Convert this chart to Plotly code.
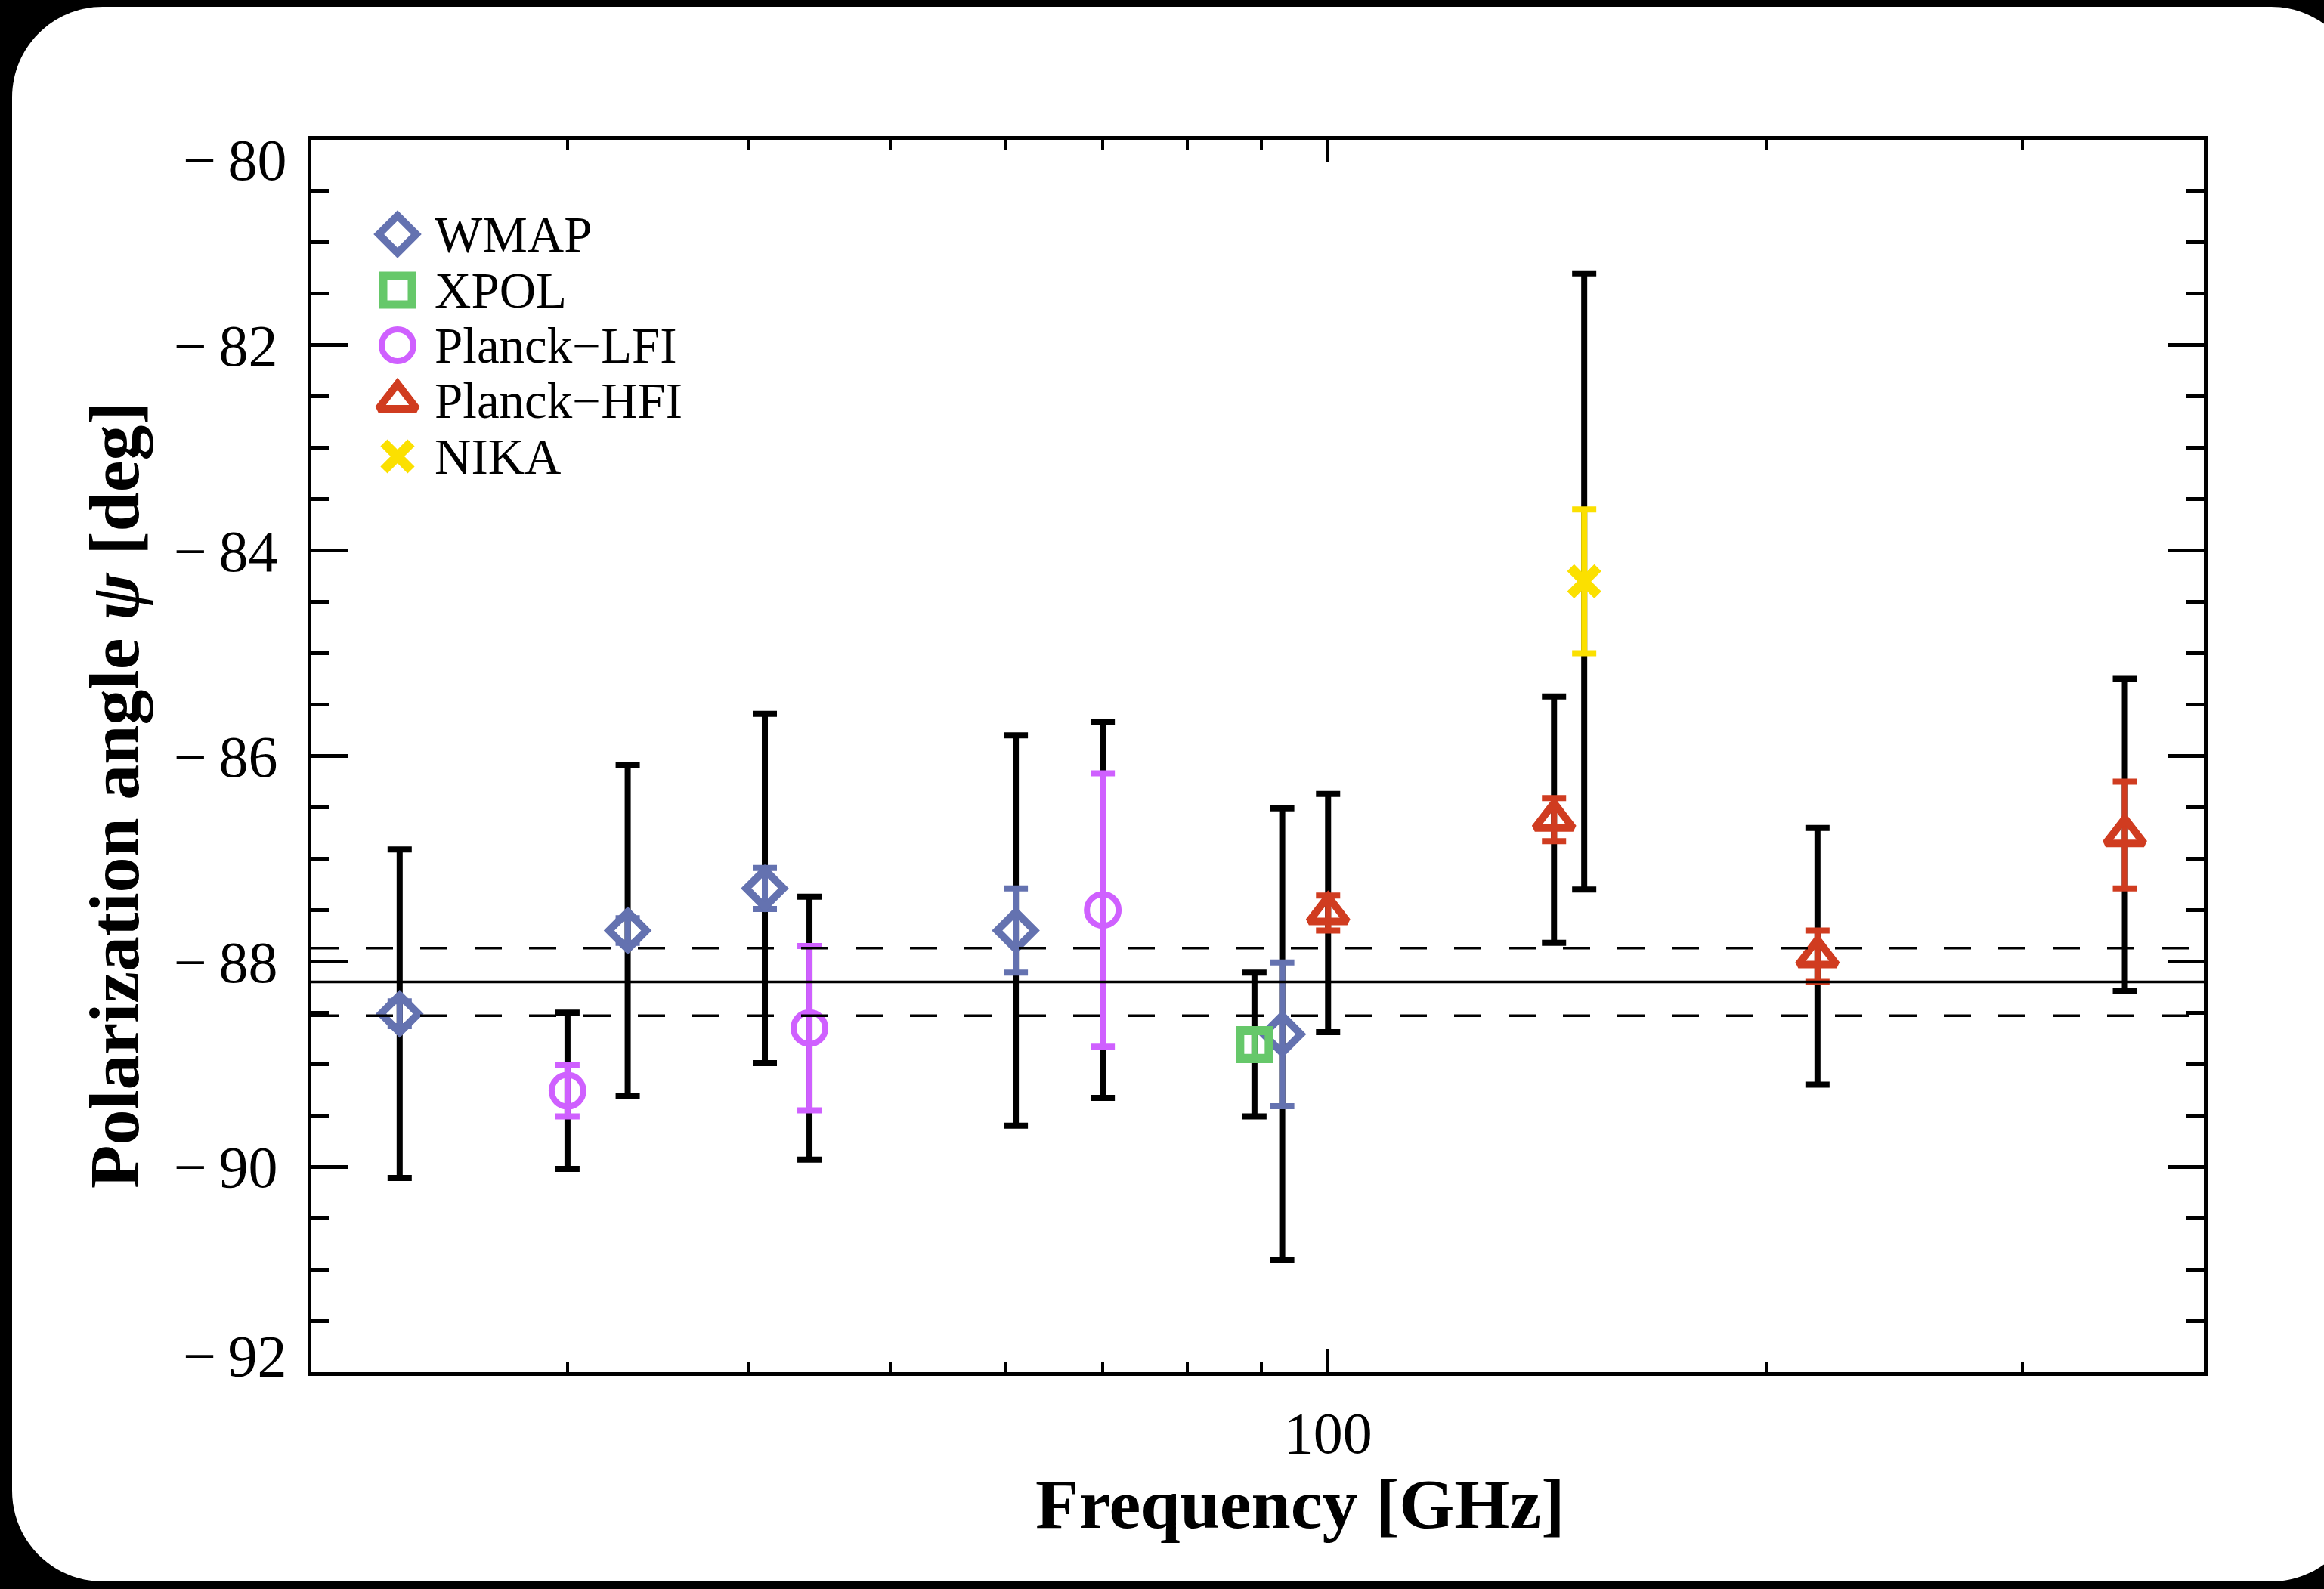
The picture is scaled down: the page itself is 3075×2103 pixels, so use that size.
import plotly.graph_objects as go

# ---------------- data: polarization angle vs frequency ----------------
# WMAP
wmap_freq = [23, 33, 41, 61, 93]
wmap_psi = [-88.51, -87.70, -87.29, -87.70, -88.71]
wmap_stat = [0.12, 0.12, 0.20, 0.41, 0.70]
wmap_tot = [1.60, 1.61, 1.70, 1.90, 2.20]

# XPOL (IRAM 30m)
xpol_freq = [89]
xpol_psi = [-88.81]
xpol_stat = [0.12]
xpol_tot = [0.70]

# Planck-LFI
lfi_freq = [30, 44, 70]
lfi_psi = [-89.26, -88.65, -87.50]
lfi_stat = [0.25, 0.80, 1.33]
lfi_tot = [0.76, 1.28, 1.83]

# Planck-HFI
hfi_freq = [100, 143, 217, 353]
hfi_psi = [-87.53, -86.62, -87.95, -86.77]
hfi_stat = [0.17, 0.21, 0.25, 0.52]
hfi_tot = [1.16, 1.20, 1.25, 1.52]

# NIKA
nika_freq = [150]
nika_psi = [-84.30]
nika_stat = [0.70]
nika_tot = [3.00]

# weighted mean and its uncertainty
psi_mean = -88.20
psi_mean_err = 0.33

# axis ticks
x_major = [100]
x_major_text = ["100"]
x_minor = [30, 40, 50, 60, 70, 80, 90, 200, 300]
y_major = [-92, -90, -88, -86, -84, -82, -80]

series = [
    dict(name="WMAP", f=wmap_freq, p=wmap_psi, s=wmap_stat, t=wmap_tot,
         color="#6472B0", symbol="diamond-open", size=38, lw=10),
    dict(name="XPOL", f=xpol_freq, p=xpol_psi, s=xpol_stat, t=xpol_tot,
         color="#66C86A", symbol="square-open", size=38, lw=11),
    dict(name="Planck\u2212LFI", f=lfi_freq, p=lfi_psi, s=lfi_stat, t=lfi_tot,
         color="#CF60FF", symbol="circle-open", size=42, lw=8),
    dict(name="Planck\u2212HFI", f=hfi_freq, p=hfi_psi, s=hfi_stat, t=hfi_tot,
         color="#D03C20", symbol="triangle-up-open", size=44, lw=10),
    dict(name="NIKA", f=nika_freq, p=nika_psi, s=nika_stat, t=nika_tot,
         color="#FBE000", symbol="x-thin-open", size=36, lw=13),
]

# ---------------- page geometry (pixels) ----------------
W, H = 3075, 2103
L, R, T, B = 412, 2916, 185, 1816


def fx(px):
    return (px - L) / (R - L)


def fy(py):
    return (B - py) / (B - T)


FONT = "Liberation Serif"
BAR_W = 8
CAP = 16

fig = go.Figure()

# total (stat + syst) uncertainties in black, underneath
for s in series:
    fig.add_trace(go.Scatter(
        x=s["f"], y=s["p"], mode="markers",
        marker=dict(size=1, color="rgba(0,0,0,0)"),
        error_y=dict(type="data", array=s["t"], visible=True, color="black",
                     thickness=BAR_W, width=CAP),
        showlegend=False, hoverinfo="skip"))

# statistical uncertainties and points in colour
for s in series:
    fig.add_trace(go.Scatter(
        x=s["f"], y=s["p"], mode="markers", name=s["name"],
        marker=dict(symbol=s["symbol"], size=s["size"], color=s["color"],
                    line=dict(color=s["color"], width=s["lw"])),
        error_y=dict(type="data", array=s["s"], visible=True, color=s["color"],
                     thickness=BAR_W, width=CAP),
        showlegend=False))

# key in the upper-left corner
key_x = fx(526)
key_text_x = fx(573)
key_rows = [310, 384, 457, 530, 604]
for s, row in zip(series, key_rows):
    fig.add_trace(go.Scatter(
        x=[key_x], y=[fy(row)], xaxis="x2", yaxis="y2", mode="markers",
        marker=dict(symbol=s["symbol"], size=s["size"], color=s["color"],
                    line=dict(color=s["color"], width=s["lw"])),
        showlegend=False, hoverinfo="skip"))
    fig.add_annotation(x=key_text_x, y=fy(row), xref="paper", yref="paper",
                       text=s["name"], showarrow=False, xanchor="left",
                       yanchor="middle", font=dict(family=FONT, size=67, color="black"))

# mean value and its band
fig.add_shape(type="line", xref="x domain", x0=0, x1=1, yref="y",
              y0=psi_mean, y1=psi_mean, line=dict(color="black", width=3.5))
for sgn in (1, -1):
    yv = psi_mean + sgn * psi_mean_err
    fig.add_shape(type="line", xref="x domain", x0=0, x1=1, yref="y",
                  y0=yv, y1=yv, line=dict(color="black", width=3.5, dash="36px,36px"))

# rounded white card on black page
x0, x1, y0, y1, rad = 16, 3125, 9, 2093, 120
k = 0.4477 * rad
pts = [
    f"M{fx(x0 + rad)},{fy(y0)}",
    f"L{fx(x1 - rad)},{fy(y0)}",
    f"C{fx(x1 - k)},{fy(y0)} {fx(x1)},{fy(y0 + k)} {fx(x1)},{fy(y0 + rad)}",
    f"L{fx(x1)},{fy(y1 - rad)}",
    f"C{fx(x1)},{fy(y1 - k)} {fx(x1 - k)},{fy(y1)} {fx(x1 - rad)},{fy(y1)}",
    f"L{fx(x0 + rad)},{fy(y1)}",
    f"C{fx(x0 + k)},{fy(y1)} {fx(x0)},{fy(y1 - k)} {fx(x0)},{fy(y1 - rad)}",
    f"L{fx(x0)},{fy(y0 + rad)}",
    f"C{fx(x0)},{fy(y0 + k)} {fx(x0 + k)},{fy(y0)} {fx(x0 + rad)},{fy(y0)}",
    "Z",
]
fig.add_shape(type="path", xref="paper", yref="paper", path=" ".join(pts),
              fillcolor="white", line=dict(width=0), layer="below")

# end labels of the y axis sit just inside the frame
fig.add_annotation(x=fx(382), y=-80, xref="paper", yref="y", text="\u2212\u200980",
                   showarrow=False, xanchor="right", yanchor="middle", yshift=-26,
                   font=dict(family=FONT, size=78, color="black"))
fig.add_annotation(x=fx(382), y=-92, xref="paper", yref="y", text="\u2212\u200992",
                   showarrow=False, xanchor="right", yanchor="middle", yshift=22,
                   font=dict(family=FONT, size=78, color="black"))

# axis titles
fig.add_annotation(x=fx(1720), y=fy(1990), xref="paper", yref="paper",
                   text="<b>Frequency [GHz]</b>", showarrow=False,
                   xanchor="center", yanchor="middle",
                   font=dict(family=FONT, size=94, color="black"))
fig.add_annotation(x=fx(151), y=fy(1052), xref="paper", yref="paper",
                   text="<b>Polarization angle <i>\u03c8</i> [deg]</b>", showarrow=False,
                   textangle=-90, xanchor="center", yanchor="middle",
                   font=dict(family=FONT, size=94, color="black"))

y_text = ["" if v in (-80, -92) else "\u2212\u2009" + str(abs(v)) for v in y_major]

fig.update_layout(
    width=W, height=H, autosize=False,
    margin=dict(l=L, r=W - R, t=T, b=H - B, pad=0),
    paper_bgcolor="black", plot_bgcolor="rgba(0,0,0,0)",
    showlegend=False,
    xaxis=dict(type="log", range=[1.30103, 2.60206],
               tickmode="array", tickvals=x_major, ticktext=x_major_text,
               ticks="inside", ticklen=30, tickwidth=4, tickcolor="black",
               minor=dict(tickmode="array", tickvals=x_minor, ticks="inside",
                          ticklen=14, tickwidth=4, tickcolor="black"),
               showline=True, linewidth=5, linecolor="black", mirror="allticks",
               showgrid=False, zeroline=False, ticklabelstandoff=8,
               tickfont=dict(family=FONT, size=78, color="black")),
    yaxis=dict(range=[-92, -80], tickmode="array", tickvals=y_major, ticktext=y_text,
               ticks="inside", ticklen=48, tickwidth=5, tickcolor="black",
               minor=dict(dtick=0.5, tick0=-80, ticks="inside", ticklen=23,
                          tickwidth=5, tickcolor="black"),
               showline=True, linewidth=5, linecolor="black", mirror="allticks",
               showgrid=False, zeroline=False, ticklabelstandoff=24,
               tickfont=dict(family=FONT, size=78, color="black")),
    xaxis2=dict(overlaying="x", anchor="y2", range=[0, 1], visible=False),
    yaxis2=dict(overlaying="y", anchor="x2", range=[0, 1], visible=False),
)

fig.write_html("out.html")
